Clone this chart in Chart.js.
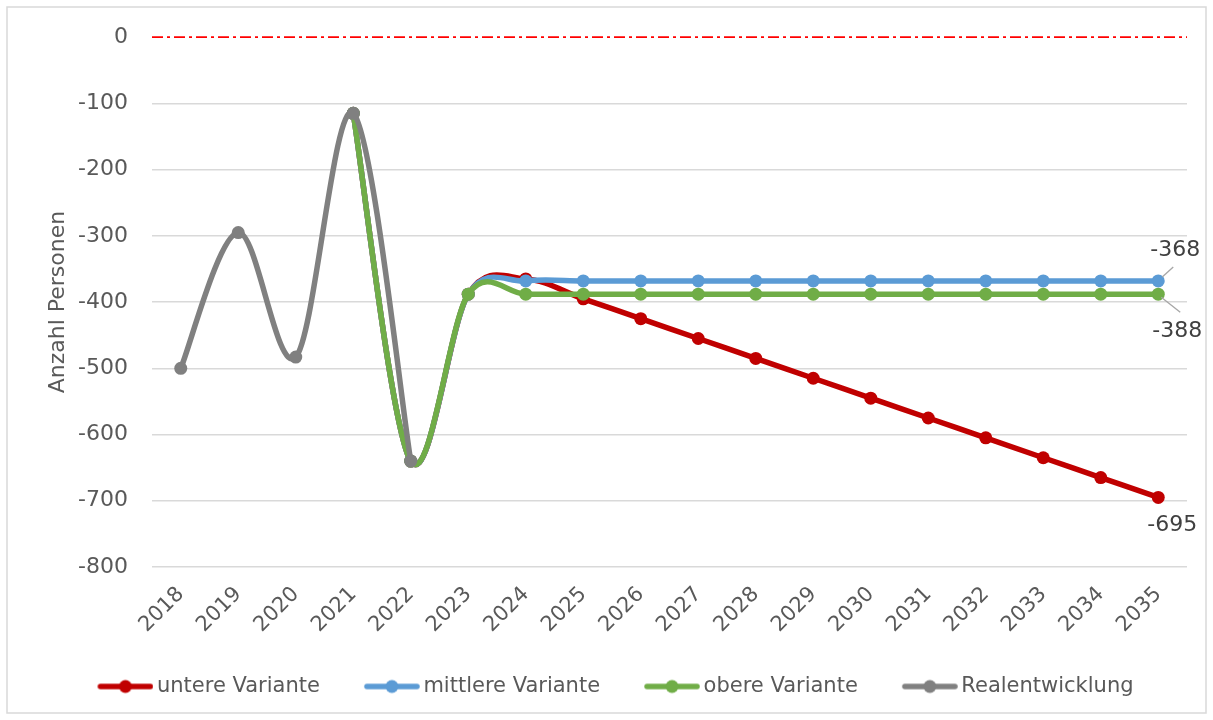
<!DOCTYPE html>
<html><head><meta charset="utf-8">
<script src="https://cdn.jsdelivr.net/npm/chart.js@4.4.1/dist/chart.umd.min.js"></script>
<style>html,body{margin:0;padding:0;background:#fff}#wrap{width:1213px;height:720px;position:relative}</style>
</head><body><div id="wrap"><canvas id="c" width="1213" height="720"></canvas></div>
<script>
const years = ['2018','2019','2020','2021','2022','2023','2024','2025','2026','2027','2028','2029','2030','2031','2032','2033','2034','2035'];
const untere   = [null,null,null,-115,-640,-388,-365,-395,-425,-455,-485,-515,-545,-575,-605,-635,-665,-695];
const mittlere = [null,null,null,-115,-640,-388,-368,-368,-368,-368,-368,-368,-368,-368,-368,-368,-368,-368];
const obere    = [null,null,null,-115,-640,-388,-388,-388,-388,-388,-388,-388,-388,-388,-388,-388,-388,-388];
const real     = [-500,-295,-483,-115,-640,null,null,null,null,null,null,null,null,null,null,null,null,null];
const seriesNames = ['untere Variante','mittlere Variante','obere Variante','Realentwicklung'];
const colors = ['#c00000','#5b9bd5','#70ad47','#808080'];
const yTicks = [0,-100,-200,-300,-400,-500,-600,-700,-800];

const FONT = 'DejaVu Sans';
const TXT = '#595959';

function makeIcon(color){
  const c = document.createElement('canvas');
  c.width = 93; c.height = 16;
  const g = c.getContext('2d');
  g.strokeStyle = color; g.lineWidth = 5.5; g.lineCap = 'round';
  g.beginPath(); g.moveTo(40, 8); g.lineTo(90, 8); g.stroke();
  g.fillStyle = color; g.beginPath(); g.arc(65, 8, 6.5, 0, Math.PI*2); g.fill();
  return c;
}
const icons = colors.map(makeIcon);

// Excel-like smoothing (uniform Catmull-Rom) computed from the library's point positions
const smoothPlugin = {
  id: 'smooth',
  beforeDatasetsDraw(chart){
    chart.data.datasets.forEach((ds, di) => {
      const meta = chart.getDatasetMeta(di);
      const line = meta.dataset;
      line.updateControlPoints(chart.chartArea, meta.indexAxis);
      const pts = meta.data.filter(p => !p.skip);
      for (let i = 0; i < pts.length; i++){
        const p = pts[i], prev = pts[i-1] || p, next = pts[i+1] || p;
        const tx = (next.x - prev.x) / 6, ty = (next.y - prev.y) / 6;
        p.cp1x = p.x - tx; p.cp1y = p.y - ty;
        p.cp2x = p.x + tx; p.cp2y = p.y + ty;
      }
    });
  }
};

const framePlugin = {
  id: 'frame',
  beforeDraw(chart){
    const ctx = chart.ctx;
    ctx.save();
    ctx.fillStyle = '#fff'; ctx.fillRect(0,0,chart.width,chart.height);
    ctx.strokeStyle = '#d9d9d9'; ctx.lineWidth = 1.5;
    ctx.strokeRect(7, 7, chart.width - 14, chart.height - 14);
    ctx.restore();
  },
  beforeDatasetsDraw(chart){
    const ctx = chart.ctx, y = chart.scales.y.getPixelForValue(0), a = chart.chartArea;
    ctx.save();
    ctx.strokeStyle = '#ff0000'; ctx.lineWidth = 1.8;
    ctx.setLineDash([11,4,3,4]);
    ctx.beginPath(); ctx.moveTo(a.left, y); ctx.lineTo(a.right, y); ctx.stroke();
    ctx.restore();
  },
  afterDatasetsDraw(chart){
    const ctx = chart.ctx;
    ctx.save();
    ctx.font = '22px "' + FONT + '"';
    ctx.fillStyle = '#404040';
    ctx.textAlign = 'center'; ctx.textBaseline = 'middle';
    ctx.strokeStyle = '#a6a6a6'; ctx.lineWidth = 1.3;
    const last = years.length - 1;
    const specs = [
      {ds:0, dx:14, dy:28, lead:null},
      {ds:1, dx:17, dy:-31, lead:[4,-4,15,-14]},
      {ds:2, dx:19, dy:37, lead:[3,3,22,18]}
    ];
    specs.forEach(s => {
      const pt = chart.getDatasetMeta(s.ds).data[last];
      const v = chart.data.datasets[s.ds].data[last];
      if (s.lead){
        ctx.beginPath(); ctx.moveTo(pt.x + s.lead[0], pt.y + s.lead[1]); ctx.lineTo(pt.x + s.lead[2], pt.y + s.lead[3]); ctx.stroke();
      }
      ctx.fillText(String(v), pt.x + s.dx, pt.y + s.dy);
    });
    ctx.restore();
  }
};

const dataArrays = [untere, mittlere, obere, real];
const orders = [4,3,2,1];
const datasets = dataArrays.map((d,i) => ({
  label: seriesNames[i],
  data: d,
  borderColor: colors[i],
  backgroundColor: colors[i],
  pointBackgroundColor: colors[i],
  pointBorderWidth: 0,
  pointRadius: 6.5,
  borderWidth: 5.5,
  tension: 0.4,
  order: orders[i],
  spanGaps: false,
  clip: false
}));

new Chart(document.getElementById('c'), {
  type: 'line',
  data: { labels: years, datasets },
  options: {
    responsive: false,
    animation: false,
    events: [],
    layout: { padding: { left: 14, right: 26, top: 37, bottom: 13 } },
    plugins: {
      tooltip: { enabled: false },
      legend: {
        position: 'bottom',
        labels: {
          usePointStyle: true,
          pointStyleWidth: 79,
          padding: 14,
          color: TXT,
          font: { family: FONT, size: 21 },
          generateLabels(chart){
            return chart.data.datasets.map((ds,i) => ({
              text: ds.label, fillStyle: ds.borderColor, strokeStyle: ds.borderColor,
              lineWidth: 0, pointStyle: icons[i], datasetIndex: i, hidden: false, fontColor: TXT
            }));
          }
        }
      }
    },
    scales: {
      x: {
        offset: true,
        grid: { display: false },
        border: { display: false },
        ticks: { color: TXT, font: { family: FONT, size: 21 }, minRotation: 45, maxRotation: 45, padding: 7, autoSkip: false },
        afterFit(s){ s.height = 95; }
      },
      y: {
        min: -800, max: 0,
        afterBuildTicks(s){ s.ticks = yTicks.map(v => ({value: v})); },
        grid: {
          drawTicks: false,
          color: c => (c.tick && c.tick.value === 0) ? 'rgba(0,0,0,0)' : '#d9d9d9',
          lineWidth: 1.5
        },
        border: { display: false },
        ticks: { color: TXT, font: { family: FONT, size: 22 }, padding: 24 },
        title: { display: true, text: 'Anzahl Personen', color: TXT, font: { family: FONT, size: 22 }, padding: { top: 31, bottom: 0 } },
        afterFit(s){ s.width = 138; }
      }
    }
  },
  plugins: [smoothPlugin, framePlugin]
});
</script></body></html>
